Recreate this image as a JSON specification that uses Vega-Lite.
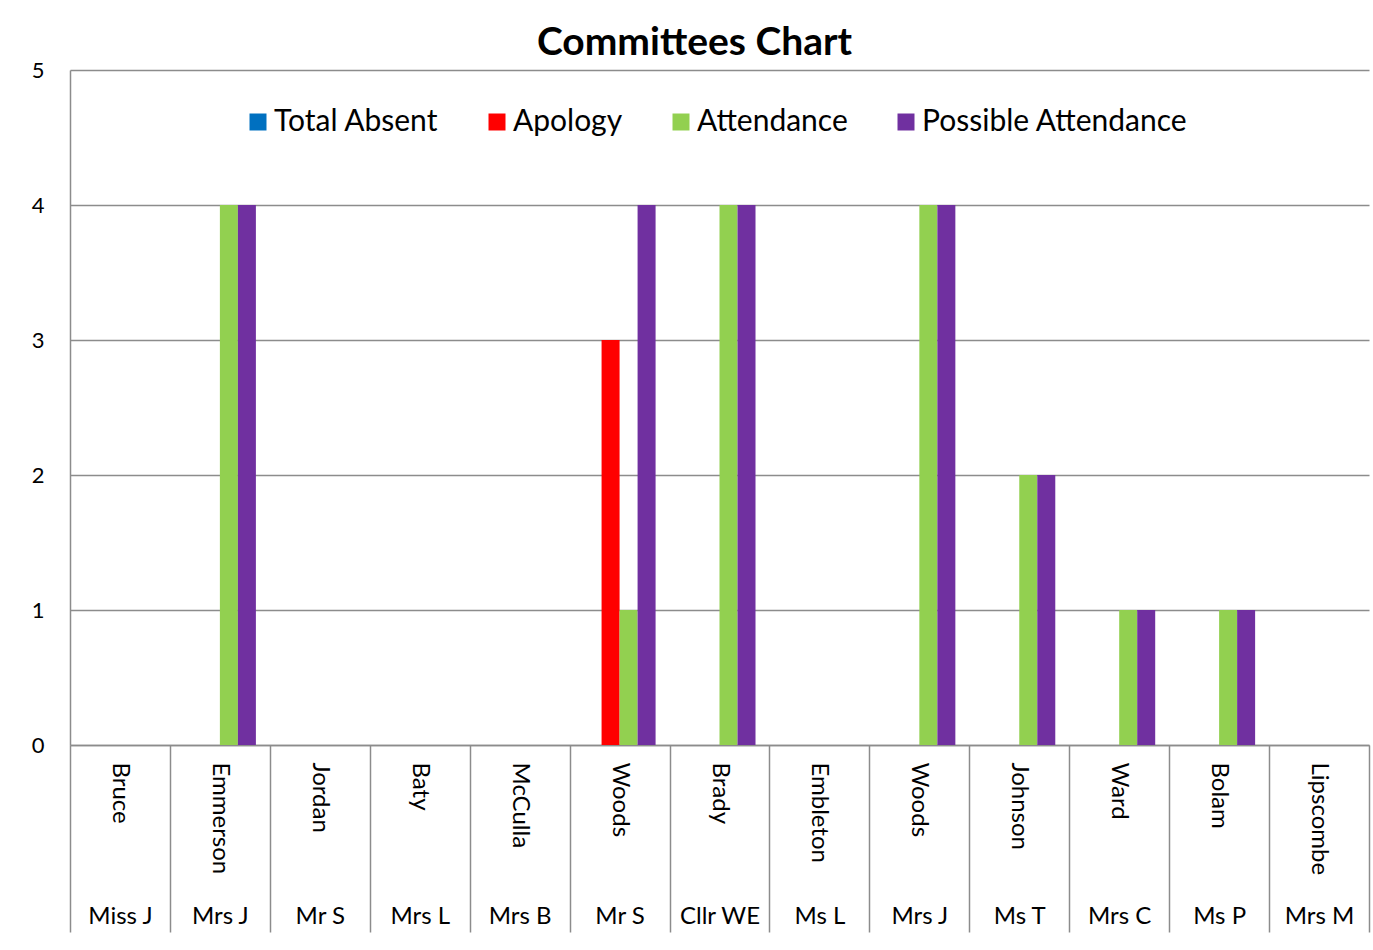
{
  "$schema": "https://vega.github.io/schema/vega-lite/v6.json",
  "width": 1299,
  "height": 675,
  "autosize": {"type": "none"},
  "padding": {"left": 70, "top": 70, "right": 4, "bottom": 205},
  "background": "white",
  "config": {"font": "Lato", "view": {"stroke": null}},
  "title": {"text": "Committees Chart", "fontSize": 39, "fontWeight": "bold", "color": "#000000", "anchor": "middle", "dx": -25, "offset": -4, "font": "Lato"},
  "data": {"values": [
    {"key": "Bruce|Miss J", "series": "Total Absent", "value": 0},
    {"key": "Bruce|Miss J", "series": "Apology", "value": 0},
    {"key": "Bruce|Miss J", "series": "Attendance", "value": 0},
    {"key": "Bruce|Miss J", "series": "Possible Attendance", "value": 0},
    {"key": "Emmerson|Mrs J", "series": "Total Absent", "value": 0},
    {"key": "Emmerson|Mrs J", "series": "Apology", "value": 0},
    {"key": "Emmerson|Mrs J", "series": "Attendance", "value": 4},
    {"key": "Emmerson|Mrs J", "series": "Possible Attendance", "value": 4},
    {"key": "Jordan|Mr S", "series": "Total Absent", "value": 0},
    {"key": "Jordan|Mr S", "series": "Apology", "value": 0},
    {"key": "Jordan|Mr S", "series": "Attendance", "value": 0},
    {"key": "Jordan|Mr S", "series": "Possible Attendance", "value": 0},
    {"key": "Baty|Mrs L", "series": "Total Absent", "value": 0},
    {"key": "Baty|Mrs L", "series": "Apology", "value": 0},
    {"key": "Baty|Mrs L", "series": "Attendance", "value": 0},
    {"key": "Baty|Mrs L", "series": "Possible Attendance", "value": 0},
    {"key": "McCulla|Mrs B", "series": "Total Absent", "value": 0},
    {"key": "McCulla|Mrs B", "series": "Apology", "value": 0},
    {"key": "McCulla|Mrs B", "series": "Attendance", "value": 0},
    {"key": "McCulla|Mrs B", "series": "Possible Attendance", "value": 0},
    {"key": "Woods|Mr S", "series": "Total Absent", "value": 0},
    {"key": "Woods|Mr S", "series": "Apology", "value": 3},
    {"key": "Woods|Mr S", "series": "Attendance", "value": 1},
    {"key": "Woods|Mr S", "series": "Possible Attendance", "value": 4},
    {"key": "Brady|Cllr WE", "series": "Total Absent", "value": 0},
    {"key": "Brady|Cllr WE", "series": "Apology", "value": 0},
    {"key": "Brady|Cllr WE", "series": "Attendance", "value": 4},
    {"key": "Brady|Cllr WE", "series": "Possible Attendance", "value": 4},
    {"key": "Embleton|Ms L", "series": "Total Absent", "value": 0},
    {"key": "Embleton|Ms L", "series": "Apology", "value": 0},
    {"key": "Embleton|Ms L", "series": "Attendance", "value": 0},
    {"key": "Embleton|Ms L", "series": "Possible Attendance", "value": 0},
    {"key": "Woods|Mrs J", "series": "Total Absent", "value": 0},
    {"key": "Woods|Mrs J", "series": "Apology", "value": 0},
    {"key": "Woods|Mrs J", "series": "Attendance", "value": 4},
    {"key": "Woods|Mrs J", "series": "Possible Attendance", "value": 4},
    {"key": "Johnson|Ms T", "series": "Total Absent", "value": 0},
    {"key": "Johnson|Ms T", "series": "Apology", "value": 0},
    {"key": "Johnson|Ms T", "series": "Attendance", "value": 2},
    {"key": "Johnson|Ms T", "series": "Possible Attendance", "value": 2},
    {"key": "Ward|Mrs C", "series": "Total Absent", "value": 0},
    {"key": "Ward|Mrs C", "series": "Apology", "value": 0},
    {"key": "Ward|Mrs C", "series": "Attendance", "value": 1},
    {"key": "Ward|Mrs C", "series": "Possible Attendance", "value": 1},
    {"key": "Bolam|Ms P", "series": "Total Absent", "value": 0},
    {"key": "Bolam|Ms P", "series": "Apology", "value": 0},
    {"key": "Bolam|Ms P", "series": "Attendance", "value": 1},
    {"key": "Bolam|Ms P", "series": "Possible Attendance", "value": 1},
    {"key": "Lipscombe|Mrs M", "series": "Total Absent", "value": 0},
    {"key": "Lipscombe|Mrs M", "series": "Apology", "value": 0},
    {"key": "Lipscombe|Mrs M", "series": "Attendance", "value": 0},
    {"key": "Lipscombe|Mrs M", "series": "Possible Attendance", "value": 0}
  ]},
  "layer": [
    {
      "mark": {"type": "bar"},
      "encoding": {
        "x": {
          "field": "key", "type": "nominal", "sort": null,
          "scale": {"paddingInner": 0, "paddingOuter": 0},
          "axis": {"orient": "bottom", "title": null, "ticks": false, "domain": true, "domainColor": "#8c8c8c", "domainWidth": 1.5,
            "labelAngle": 90, "labelAlign": "left", "labelBaseline": "middle", "labelPadding": 17, "labelFontSize": 24,
            "labelColor": "#000000", "labelFont": "Lato", "labelOverlap": false, "labelLimit": 300, "grid": false,
            "labelExpr": "split(datum.label, '|')[0]"}
        },
        "xOffset": {
          "field": "series", "type": "nominal",
          "sort": ["Total Absent", "Apology", "Attendance", "Possible Attendance"],
          "scale": {"domain": ["Total Absent", "Apology", "Attendance", "Possible Attendance"], "paddingInner": 0, "paddingOuter": 0.775}
        },
        "y": {
          "field": "value", "type": "quantitative",
          "scale": {"domain": [0, 5], "nice": false},
          "axis": {"title": null, "values": [0, 1, 2, 3, 4, 5], "ticks": false, "domain": true, "domainColor": "#8c8c8c", "domainWidth": 1.5,
            "grid": true, "gridColor": "#8c8c8c", "gridWidth": 1.5, "labelPadding": 26, "labelFontSize": 22,
            "labelColor": "#000000", "labelFont": "Lato", "format": "d"}
        },
        "color": {
          "field": "series", "type": "nominal",
          "sort": ["Total Absent", "Apology", "Attendance", "Possible Attendance"],
          "scale": {"domain": ["Total Absent", "Apology", "Attendance", "Possible Attendance"], "range": ["#0070C0", "#FF0000", "#92D050", "#7030A0"]},
          "legend": {"orient": "none", "legendX": 173, "legendY": 37, "direction": "horizontal", "title": null,
            "symbolType": "square", "symbolSize": 289, "symbolStrokeWidth": 0, "symbolOpacity": 1,
            "labelFontSize": 30, "labelFont": "Lato", "labelColor": "#000000", "columnPadding": 43, "labelOffset": 1, "padding": 0, "labelLimit": 400}
        }
      }
    },
    {
      "mark": {"type": "point", "opacity": 0},
      "encoding": {
        "x": {
          "field": "key", "type": "nominal", "sort": null,
          "axis": {"orient": "bottom", "title": null, "ticks": true, "tickBand": "extent", "tickSize": 187, "tickColor": "#8c8c8c", "tickWidth": 1.5,
            "domain": false, "labelAngle": 0, "labelAlign": "center", "labelBaseline": "top", "labelPadding": -28, "labelFontSize": 24,
            "labelColor": "#000000", "labelFont": "Lato", "labelOverlap": false, "grid": false,
            "labelExpr": "split(datum.label, '|')[1]"}
        }
      }
    }
  ],
  "resolve": {"axis": {"x": "independent"}}
}
